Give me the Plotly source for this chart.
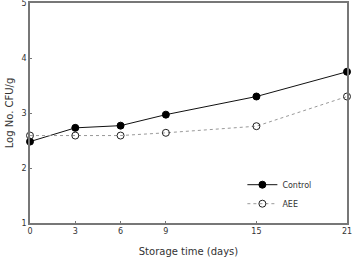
import plotly.graph_objects as go

days = [0, 3, 6, 9, 15, 21]
control = [2.48, 2.73, 2.77, 2.97, 3.30, 3.75]
aee = [2.59, 2.59, 2.59, 2.64, 2.76, 3.30]
x_ticks = [0, 3, 6, 9, 15, 21]
y_ticks = [1, 2, 3, 4, 5]

fig = go.Figure()
fig.add_trace(go.Scatter(x=days, y=control, name="Control", mode="lines+markers",
                         line=dict(color="#111111", width=1),
                         marker=dict(symbol="circle", size=7, color="#000000",
                                     line=dict(color="#000000", width=1)),
                         cliponaxis=False))
fig.add_trace(go.Scatter(x=days, y=aee, name="AEE", mode="lines+markers",
                         line=dict(color="#999999", width=1, dash="dot"),
                         marker=dict(symbol="circle-open", size=7, color="#222222",
                                     line=dict(color="#222222", width=1)),
                         cliponaxis=False))

axis_common = dict(showline=True, linecolor="#777777", linewidth=1.5, mirror=True,
                   ticks="inside", ticklen=2, tickcolor="#777777", showgrid=False,
                   zeroline=False, ticklabeloverflow="allow", automargin=False,
                   tickfont=dict(family="DejaVu Sans", size=8, color="#333333"))

fig.update_layout(
    width=352, height=257,
    margin=dict(l=30, r=5, t=3, b=34),
    paper_bgcolor="white", plot_bgcolor="white",
    xaxis=dict(range=[0, 21], tickvals=x_ticks,
               title=dict(text="Storage time (days)", font=dict(family="DejaVu Sans", size=10, color="#333333"), standoff=15),
               **axis_common),
    yaxis=dict(range=[1, 5], tickvals=y_ticks,
               title=dict(text="Log No. CFU/g", font=dict(family="DejaVu Sans", size=10, color="#333333"), standoff=6),
               **axis_common),
    legend=dict(x=0.67, y=0.24, xanchor="left", yanchor="top", bgcolor="rgba(0,0,0,0)",
                font=dict(family="DejaVu Sans", size=8, color="#333333"),
                itemwidth=30, tracegroupgap=0),
    showlegend=True,
)

fig.write_html("out.html")
